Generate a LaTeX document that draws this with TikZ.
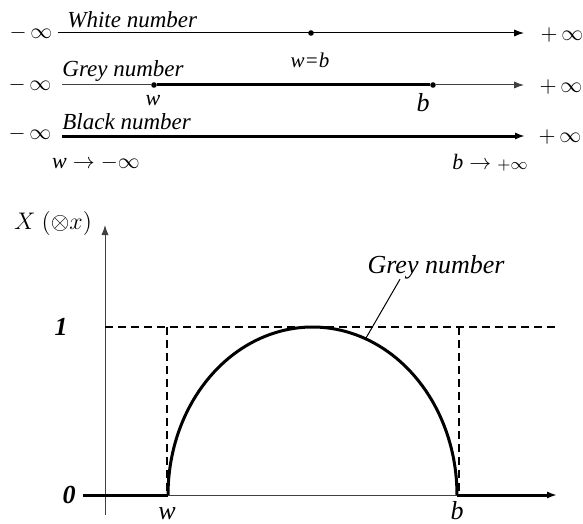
\documentclass[tikz,border=0pt]{standalone}
\usepackage{fontspec}
\setmainfont{Liberation Serif}
\usetikzlibrary{arrows.meta}

\begin{document}
\begin{tikzpicture}[x=0.5pt,y=-0.5pt,
        thinline/.style={line width=0.5pt, black!75},
        thickline/.style={line width=1.5pt},
        tip/.style={-{Latex[length=5pt,width=3.6pt]}},
        guide/.style={dash pattern=on 4pt off 2.5pt, line width=0.6pt},
        dot/.style={circle, fill, inner sep=0pt, minimum size=2.8pt},
        lbl/.style={font=\fontsize{11.5}{13}\selectfont\itshape, inner sep=0pt},
        inf/.style={font=\fontsize{11}{13}\selectfont, inner sep=0pt},
        val/.style={font=\fontsize{13}{15}\selectfont\itshape, inner sep=0pt}]

        \useasboundingbox (0,0) rectangle (583,524);

        \node[inf] (minfA) at (31,33) {$-\,\infty$};
        \node[inf] (minfB) at (30,85) {$-\,\infty$};
        \node[inf] (minfC) at (30,134) {$-\,\infty$};
        \node[inf] (pinfA) at (562,35) {$+\,\infty$};
        \node[inf] (pinfB) at (561,87) {$+\,\infty$};
        \node[inf] (pinfC) at (560,137) {$+\,\infty$};

        \coordinate (startA) at (58,33);
        \coordinate (endA) at (524,33);
        \coordinate (startB) at (62,85);
        \coordinate (endB) at (524,85);
        \coordinate (startC) at (62,136);
        \coordinate (endC) at (525,136);

        \node[dot] (wb) at (311,33) {};
        \node[dot] (w) at (154,85) {};
        \node[dot] (b) at (433,85) {};

        \draw[thinline, black, tip] (startA) -- (endA);
        \draw[thinline] (startB) -- (w);
        \draw[thickline] (w) -- (b);
        \draw[thinline, tip] (b) -- (endB);
        \draw[thickline, tip] (startC) -- (endC);

        \node[lbl, anchor=base west] (white) at (67,28) {White number};
        \node[lbl, anchor=base west] (grey) at (62,76) {Grey number};
        \node[lbl, anchor=base west] (black) at (62,129) {Black number};

        \node[lbl, font=\fontsize{10.5}{12}\selectfont\itshape] (wbLbl) at (310,60) {w=b};
        \node[lbl, font=\fontsize{11}{13}\selectfont\itshape] (wLbl) at (153,101) {w};
        \node[lbl, font=\fontsize{13}{15}\selectfont\itshape] (bLbl) at (423,103) {b};
        \node[inf] (wLim) at (96,163) {$\textit{w} \rightarrow -\infty$};
        \node[inf] (bLim) at (490,163) {$\textit{b} \rightarrow {\scriptstyle +\infty}$};

        \coordinate (origin) at (105,495);
        \coordinate (ybot) at (105,515);
        \coordinate (ytop) at (105,225);
        \coordinate (xleft) at (83,495);
        \coordinate (wx) at (168,495);
        \coordinate (bx) at (457,495);
        \coordinate (xtip) at (557,495);
        \coordinate (oneY) at (105,327);
        \coordinate (oneEnd) at (558,327);
        \coordinate (wTop) at (167,327);
        \coordinate (wFoot) at (167,495);
        \coordinate (bTop) at (459,327);
        \coordinate (bFoot) at (459,495);

        \draw[thinline, tip] (ybot) -- (ytop);
        \draw[thinline] (wx) -- (bx);
        \draw[thickline] (xleft) -- (wx);
        \draw[thickline, tip] (bx) -- (xtip);

        \draw[guide] (oneY) -- (oneEnd);
        \draw[guide] (wTop) -- (wFoot);
        \draw[guide] (bTop) -- (bFoot);

        \draw[thickline] plot[domain=180:360, samples=90] ({312.5+144.5*cos(\x)},{495+168*sin(\x)});

        \node[inner sep=0pt, font=\fontsize{12.5}{14}\selectfont] (yLbl) at (53,223) {$X\ (\otimes x)$};
        \node[val, font=\fontsize{13}{15}\selectfont\bfseries\itshape] (one) at (61,327) {1};
        \node[val, font=\fontsize{13}{15}\selectfont\bfseries\itshape] (zero) at (69,495) {0};
        \node[val] (wAxis) at (167,514) {w};
        \node[val] (bAxis) at (457,511) {b};

        \node[val] (greyLbl) at (436,267) {Grey number};
        \coordinate (ptr) at (366,338);
        \draw[line width=0.5pt] ([xshift=-18pt]greyLbl.south) -- (ptr);
\end{tikzpicture}
\end{document}
